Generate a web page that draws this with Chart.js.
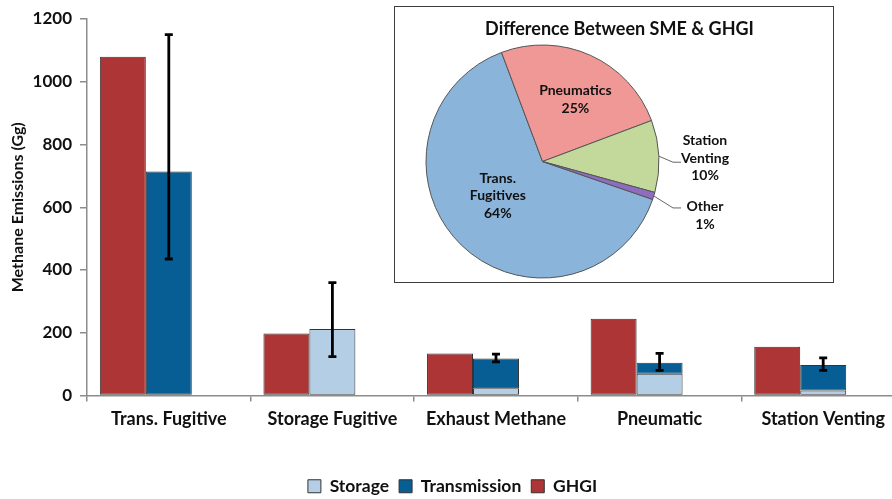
<!DOCTYPE html>
<html>
<head>
<meta charset="utf-8">
<script src="https://cdn.jsdelivr.net/npm/chart.js"></script>
<style>
  html, body { margin: 0; padding: 0; background: #fff; overflow: hidden; }
  #wrap { position: relative; width: 910px; height: 505px; }
  #inset {
    position: absolute; left: 394px; top: 6px;
    width: 438px; height: 275px;
    border: 1.5px solid #3c3c3c; background: #fff;
  }
</style>
</head>
<body>
<div id="wrap">
  <canvas id="barChart" width="910" height="505"></canvas>
  <div id="inset"><canvas id="pieChart" width="438" height="275"></canvas></div>
</div>
<script>
  const categories = ['Trans. Fugitive', 'Storage Fugitive', 'Exhaust Methane', 'Pneumatic', 'Station Venting'];
  const ghgi = [1080, 198, 134, 245, 155];
  const storage = [null, 212, 23, 69, 16];
  const transmission = [714, null, 95, 35, 81];
  // error bar ends on the SME (storage + transmission) total
  const errLow = [435, 124, 107, 80, 80];
  const errHigh = [1150, 360, 132, 134, 120];
  const yTicks = [0, 200, 400, 600, 800, 1000, 1200];
  const legendOrder = ['Storage', 'Transmission', 'GHGI'];

  const pieTitle = 'Difference Between SME & GHGI';
  const pieLabels = ['Trans. Fugitives', 'Pneumatics', 'Station Venting', 'Other'];
  const pieValues = [64, 25, 10, 1];

  const txt = '#111';
  const axisGrey = '#8c8c8c';
  const font16 = {family: 'Lato', size: 16, weight: 'bold'};
  const font18 = {family: 'Lato', size: 18, weight: 'bold'};

  var errorBars = {
    id: 'errorBars',
    afterDatasetsDraw(chart) {
      const ctx = chart.ctx;
      const y = chart.scales.y;
      const m1 = chart.getDatasetMeta(1), m2 = chart.getDatasetMeta(2);
      ctx.save();
      ctx.strokeStyle = '#000';
      ctx.lineWidth = 2.8;
      categories.forEach((c, i) => {
        const bx = (transmission[i] != null ? m2 : m1).data[i].x;
        const top = y.getPixelForValue(errHigh[i]);
        const bot = y.getPixelForValue(errLow[i]);
        ctx.beginPath();
        ctx.moveTo(bx, top); ctx.lineTo(bx, bot);
        ctx.moveTo(bx - 4, top); ctx.lineTo(bx + 4, top);
        ctx.moveTo(bx - 4, bot); ctx.lineTo(bx + 4, bot);
        ctx.stroke();
      });
      ctx.restore();
    }
  };

  var barChart = new Chart(document.getElementById('barChart'), {
    type: 'bar',
    data: {
      labels: categories,
      datasets: [
        {label: 'GHGI', data: ghgi, backgroundColor: '#ae3535', stack: 'ghgi'},
        {label: 'Storage', data: storage, backgroundColor: '#b4cee6', stack: 'sme'},
        {label: 'Transmission', data: transmission, backgroundColor: '#075e95', stack: 'sme'},
        {label: '', data: categories.map(() => null), stack: 'gap'}
      ]
    },
    options: {
      responsive: false,
      animation: false,
      layout: {padding: {top: 19, right: 5, left: 0, bottom: 0}},
      datasets: {
        bar: {borderColor: '#333', borderWidth: 1, borderSkipped: false, categoryPercentage: 0.843, barPercentage: 1}
      },
      scales: {
        x: {
          stacked: true,
          grid: {drawOnChartArea: false, tickLength: 6, color: axisGrey, lineWidth: 1.5},
          border: {color: axisGrey, width: 1.5},
          ticks: {font: font18, color: txt, padding: 7, maxRotation: 0, autoSkip: false},
          afterFit: s => { s.height = 72; }
        },
        y: {
          stacked: true,
          min: 0, max: 1200,
          afterBuildTicks: s => { s.ticks = yTicks.map(v => ({value: v})); },
          grid: {drawOnChartArea: false, tickLength: 7, color: axisGrey, lineWidth: 1.5},
          border: {color: axisGrey, width: 1.5},
          ticks: {font: {family: 'Lato', size: 17, weight: 'bold'}, color: txt, padding: 8, callback: v => String(v)},
          title: {display: true, text: 'Methane Emissions (Gg)', font: font16, color: txt, padding: {top: 8, bottom: 0}},
          afterFit: s => { s.width = 87; }
        }
      },
      plugins: {
        legend: {
          position: 'bottom',
          labels: {
            filter: item => item.text !== '',
            sort: (a, b) => legendOrder.indexOf(a.text) - legendOrder.indexOf(b.text),
            boxWidth: 13, boxHeight: 13, padding: 10,
            font: {family: 'Lato', size: 17.5, weight: 'bold'}, color: txt
          }
        },
        tooltip: {enabled: false}
      }
    },
    plugins: [errorBars]
  });

  // per-slice label placement (style only)
  const pieLabelStyle = [
    {dx: 4, dy: -16},
    {dx: 4, dy: 1.5},
    {outside: true, dy: 2, lead: 6},
    {outside: true, dy: 19.5, lead: 12}
  ];

  var pieText = {
    id: 'pieText',
    afterDraw(chart) {
      const ctx = chart.ctx;
      ctx.save();
      ctx.fillStyle = txt;
      ctx.textAlign = 'center';
      ctx.textBaseline = 'middle';
      ctx.font = 'bold 18px Lato';
      ctx.fillText(pieTitle, 224.5, 22.5);
      ctx.font = 'bold 14px Lato';
      const meta = chart.getDatasetMeta(0);
      meta.data.forEach((arc, i) => {
        const p = arc.getProps(['x', 'y', 'startAngle', 'endAngle', 'outerRadius']);
        const mid = (p.startAngle + p.endAngle) / 2;
        const st = pieLabelStyle[i];
        const lines = pieLabels[i].split(' ').concat(pieValues[i] + '%');
        let cx, cy;
        if (st.outside) {
          const ex = p.x + Math.cos(mid) * p.outerRadius;
          const ey = p.y + Math.sin(mid) * p.outerRadius;
          const ly = ey + st.lead;
          ctx.strokeStyle = '#666';
          ctx.lineWidth = 1;
          ctx.beginPath();
          ctx.moveTo(ex, ey);
          ctx.lineTo(p.x + p.outerRadius + 14, ly);
          ctx.lineTo(p.x + p.outerRadius + 22, ly);
          ctx.stroke();
          cx = p.x + p.outerRadius + 46;
          cy = ey + st.dy;
        } else {
          cx = p.x + Math.cos(mid) * p.outerRadius * 0.6 + st.dx;
          cy = p.y + Math.sin(mid) * p.outerRadius * 0.6 + st.dy;
        }
        lines.forEach((t, k) => ctx.fillText(t, cx, cy + (k - (lines.length - 1) / 2) * 17.5));
      });
      ctx.restore();
    }
  };

  var pieChart = new Chart(document.getElementById('pieChart'), {
    type: 'pie',
    data: {
      labels: pieLabels,
      datasets: [{
        data: pieValues,
        backgroundColor: ['#8ab4da', '#ef9896', '#c3d89b', '#8e6cc0'],
        borderColor: '#555',
        borderWidth: 1
      }]
    },
    options: {
      responsive: false,
      animation: false,
      rotation: 109,
      layout: {padding: {left: 30.5, right: 173.5, top: 37.5, bottom: 3.5}},
      plugins: {legend: {display: false}, tooltip: {enabled: false}}
    },
    plugins: [pieText]
  });
</script>
</body>
</html>
